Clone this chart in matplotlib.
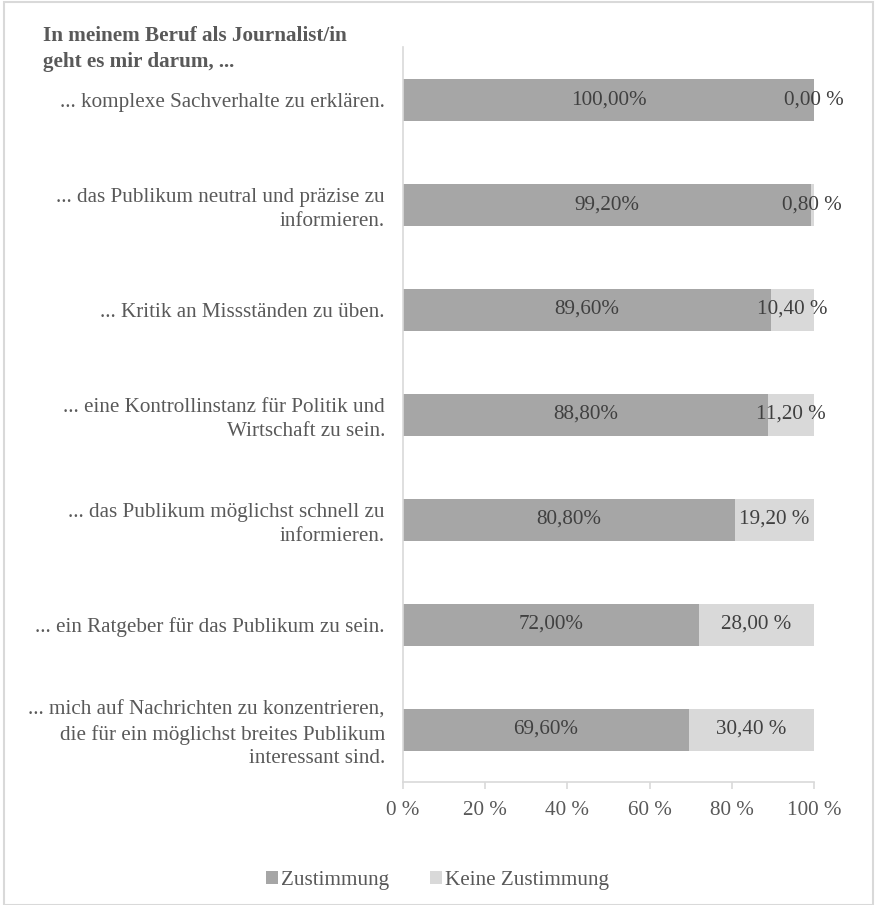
import matplotlib.pyplot as plt
from matplotlib.patches import Rectangle

plt.rcParams["font.family"] = ["Liberation Serif", "DejaVu Serif"]

categories = [
    "... komplexe Sachverhalte zu erklären.",
    "... das Publikum neutral und präzise zu\ninformieren.",
    "... Kritik an Missständen zu üben.",
    "... eine Kontrollinstanz für Politik und\nWirtschaft zu sein.",
    "... das Publikum möglichst schnell zu\ninformieren.",
    "... ein Ratgeber für das Publikum zu sein.",
    "... mich auf Nachrichten zu konzentrieren,\ndie für ein möglichst breites Publikum\ninteressant sind.",
]
zustimmung = [100.0, 99.2, 89.6, 88.8, 80.8, 72.0, 69.6]
keine = [0.0, 0.8, 10.4, 11.2, 19.2, 28.0, 30.4]
xticks = [0, 20, 40, 60, 80, 100]

dark = "#a6a6a6"
light = "#d9d9d9"
textc = "#595959"
labc = "#404040"
fs = 15.2

fig = plt.figure(figsize=(8.75, 9.05), dpi=100)
ax = fig.add_axes([0.4606, 0.1359, 0.4697, 0.8121])

y = list(range(len(categories)))
ax.barh(y, zustimmung, height=0.4, color=dark, label="Zustimmung")
ax.barh(y, keine, left=zustimmung, height=0.4, color=light, label="Keine Zustimmung")

for i in y:
    ax.text(zustimmung[i] / 2, i, f"{zustimmung[i]:.2f}%".replace(".", ","),
            ha="center", va="center", fontsize=fs, color=labc)
    ax.text(zustimmung[i] + keine[i] / 2, i, f"{keine[i]:.2f} %".replace(".", ","),
            ha="center", va="center", fontsize=fs, color=labc)

ax.set_ylim(len(categories) - 0.5, -0.5)
ax.set_xlim(0, 100)
ax.set_yticks(y)
ax.set_yticklabels(categories, fontsize=fs, color=textc, ha="right", linespacing=1.35)
ax.set_xticks(xticks)
ax.set_xticklabels([f"{t} %" for t in xticks], fontsize=fs, color=textc)
ax.tick_params(axis="y", length=0, pad=13)
ax.tick_params(axis="x", length=5, width=1.2, color=light, direction="out", pad=9)

for s in ["top", "right"]:
    ax.spines[s].set_visible(False)
for s in ["left", "bottom"]:
    ax.spines[s].set_color(light)
    ax.spines[s].set_linewidth(1.2)

fig.text(0.049, 0.971, "In meinem Beruf als Journalist/in\ngeht es mir darum, ...",
         fontsize=fs, fontweight="bold", color=textc, ha="left", va="top", linespacing=1.4)

leg = fig.legend(loc="center", bbox_to_anchor=(0.5, 0.027), ncol=2, frameon=False,
                 fontsize=fs, handlelength=0.6, handleheight=0.6, handletextpad=0.15,
                 columnspacing=1.9)
for t in leg.get_texts():
    t.set_color(textc)

fig.patches.append(Rectangle((0.004, 0.0), 0.994, 0.998, transform=fig.transFigure,
                             fill=False, edgecolor=light, linewidth=1.5))

plt.savefig("out.png", dpi=100)
